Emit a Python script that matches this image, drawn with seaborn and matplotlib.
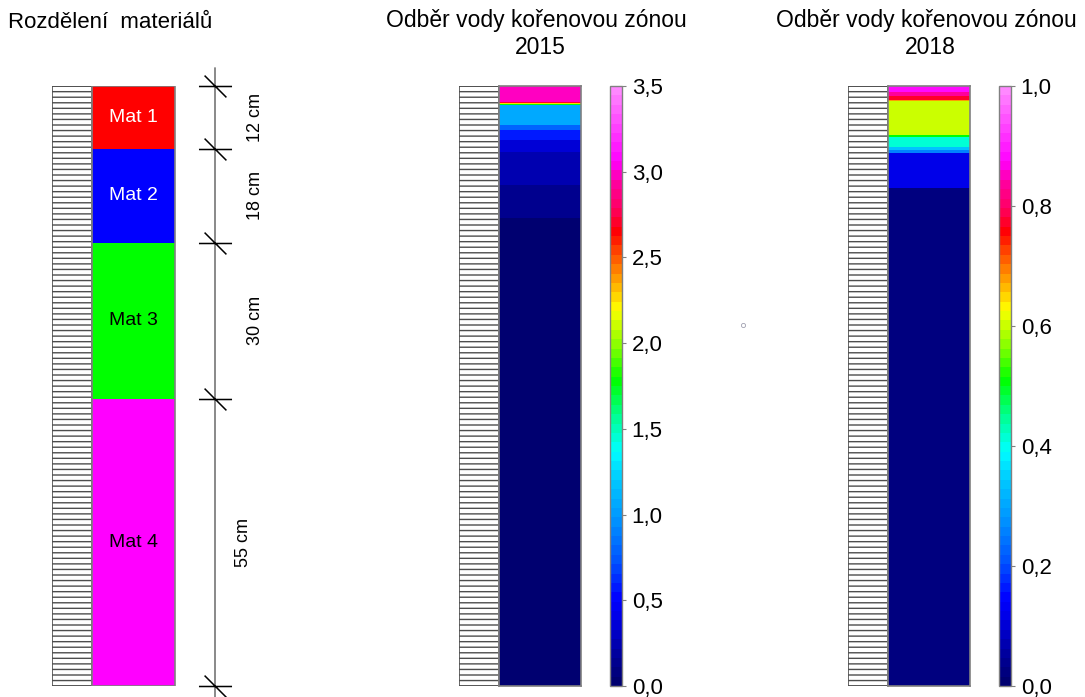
import numpy as np
import pandas as pd
import matplotlib
matplotlib.use("Agg")
import matplotlib.pyplot as plt
import seaborn as sns
from matplotlib.colors import LinearSegmentedColormap
from matplotlib.patches import Rectangle
from matplotlib.path import Path
from matplotlib.lines import Line2D

# ---------------- data ----------------
materials = ["Mat 1", "Mat 2", "Mat 3", "Mat 4"]
mat_thickness_cm = [12, 18, 30, 55]
mat_colors = ["#ff0000", "#0000ff", "#00ff00", "#ff00ff"]
mat_text_colors = ["white", "white", "black", "black"]
dim_labels = ["12 cm", "18 cm", "30 cm", "55 cm"]

# root-zone water uptake profiles: layer thickness (mm) from the surface, value
uptake2015_thick_mm = [30, 2, 2, 3, 38, 10, 18, 23, 64, 63, 897]
uptake2015_values = [3.0, 2.7, 2.25, 1.8, 1.05, 0.8, 0.55, 0.38, 0.22, 0.12, 0.03]

uptake2018_thick_mm = [11, 9, 6, 2, 66, 3, 20, 5, 6, 68, 954]
uptake2018_values = [0.89, 0.83, 0.77, 0.68, 0.6, 0.5, 0.41, 0.33, 0.25, 0.11, 0.02]

cbar2015_ticks = [0.0, 0.5, 1.0, 1.5, 2.0, 2.5, 3.0, 3.5]
cbar2018_ticks = [0.0, 0.2, 0.4, 0.6, 0.8, 1.0]

title_left = "Rozdělení  materiálů"
title_mid = ["Odběr vody kořenovou zónou", "2015"]
title_right = ["Odběr vody kořenovou zónou", "2018"]

# ---------------- style ----------------
sns.set_style("white")
plt.rcParams["font.family"] = ["Liberation Sans", "DejaVu Sans"]
plt.rcParams["text.color"] = "black"
plt.rcParams["ytick.color"] = "black"
plt.rcParams["hatch.color"] = "#4d4d4d"
plt.rcParams["hatch.linewidth"] = 1.0

cmap = LinearSegmentedColormap.from_list(
    "uptake",
    [(0.0, "#000070"), (0.05, "#0000a0"), (0.11, "#0000e8"), (0.14, "#0000ff"),
     (0.20, "#0050ff"), (0.27, "#0090ff"), (0.34, "#00c8ff"), (0.39, "#00ffff"),
     (0.45, "#00ff90"), (0.51, "#00ff00"), (0.565, "#80ff00"), (0.63, "#ffff00"),
     (0.68, "#ffa000"), (0.73, "#ff4000"), (0.76, "#ff0000"), (0.80, "#ff0060"),
     (0.845, "#ff00a0"), (0.88, "#ff00ff"), (1.0, "#ff88ff")], N=64)

W, H = 1085, 697
fig = plt.figure(figsize=(W / 100, H / 100), dpi=100)


def px_axes(x0, x1, y0, y1):
    return fig.add_axes([x0 / W, 1 - y1 / H, (x1 - x0) / W, (y1 - y0) / H])


def hatch_column(ax):
    ax.add_patch(Rectangle((0, 0), 1, 1, transform=ax.transAxes, facecolor="white",
                           edgecolor="#4d4d4d", hatch="---", lw=1.2))
    ax.set_xlim(0, 1)
    ax.set_ylim(0, 1)
    ax.axis("off")


grey = "#808080"

# ---------------- left panel: materials ----------------
axL = px_axes(52, 280, 86, 686)
total = sum(mat_thickness_cm)
tops = np.cumsum([0] + mat_thickness_cm[:-1])
bounds = np.cumsum([0] + mat_thickness_cm)
axL.set_xlim(0, 228)
axL.set_ylim(total, 0)
axL.axis("off")
axL.add_patch(Rectangle((0, 0), 40, total, facecolor="white", edgecolor="#4d4d4d",
                        hatch="---", lw=1.2))
axL.bar(x=40 + 83 / 2, height=mat_thickness_cm, bottom=tops, width=83,
        color=mat_colors, edgecolor="none")
axL.add_patch(Rectangle((40, 0), 83, total, facecolor="none", edgecolor=grey, lw=1.2))
for name, t, th, tc in zip(materials, tops, mat_thickness_cm, mat_text_colors):
    axL.text(40 + 83 / 2, t + th / 2, name, color=tc, ha="center", va="center",
             fontsize=14)

# dimension line
axL.plot([163, 163], [-3.4, total + 3], color=grey, lw=1.3, clip_on=False)
tick_marker = Path([(-1, 0), (1, 0), (-0.66, 0.66), (0.66, -0.66)],
                   [Path.MOVETO, Path.LINETO, Path.MOVETO, Path.LINETO])
axL.plot([163] * len(bounds), bounds, ls="none", marker=tick_marker, ms=23.8,
         mec="black", mew=1.1, clip_on=False)
dim_x = [203, 203, 203, 191]
for lab, t, th, xx in zip(dim_labels, tops, mat_thickness_cm, dim_x):
    axL.text(xx, t + th / 2, lab, rotation=90, ha="center", va="center", fontsize=13)


# ---------------- uptake panels ----------------
def uptake_panel(x0, thick, vals, vmax, ticks, fmt):
    axh = px_axes(x0, x0 + 40, 86, 686)
    hatch_column(axh)
    ax = px_axes(x0 + 40, x0 + 122, 86, 686)
    cax = px_axes(x0 + 151, x0 + 163, 86, 686)
    df = pd.DataFrame({"uptake": np.repeat(vals, thick)})
    sns.heatmap(df, ax=ax, cmap=cmap, vmin=0, vmax=vmax, cbar_ax=cax,
                xticklabels=False, yticklabels=False, linewidths=0)
    for s in ax.spines.values():
        s.set_visible(True)
        s.set_color(grey)
        s.set_linewidth(1.2)
    cb = ax.collections[0].colorbar
    cb.set_ticks(ticks)
    cb.set_ticklabels([fmt.format(t).replace(".", ",") for t in ticks])
    cb.outline.set_edgecolor(grey)
    cb.outline.set_linewidth(1.0)
    cax.tick_params(length=3, width=0.8, color=grey, labelcolor="black",
                    labelsize=16, pad=4)
    return ax


uptake_panel(459, uptake2015_thick_mm, uptake2015_values, 3.5, cbar2015_ticks, "{:.1f}")
uptake_panel(848, uptake2018_thick_mm, uptake2018_values, 1.0, cbar2018_ticks, "{:.1f}")

# ---------------- titles ----------------
fig.text(8 / W, 1 - 22 / H, title_left, ha="left", va="center", fontsize=16)
for cx, lines in [(536, title_mid), (926, title_right)]:
    fig.text(cx / W, 1 - 20 / H, lines[0], ha="center", va="center", fontsize=16.5)
    fig.text((cx + 4) / W, 1 - 47 / H, lines[1], ha="center", va="center", fontsize=16.5)

# tiny stray circle present in the original
fig.add_artist(Line2D([743 / W], [1 - 325 / H], marker="o", ms=3, mfc="none",
                      mec="#a0a0b0", mew=0.6, transform=fig.transFigure))

fig.savefig("out.png", dpi=100)
